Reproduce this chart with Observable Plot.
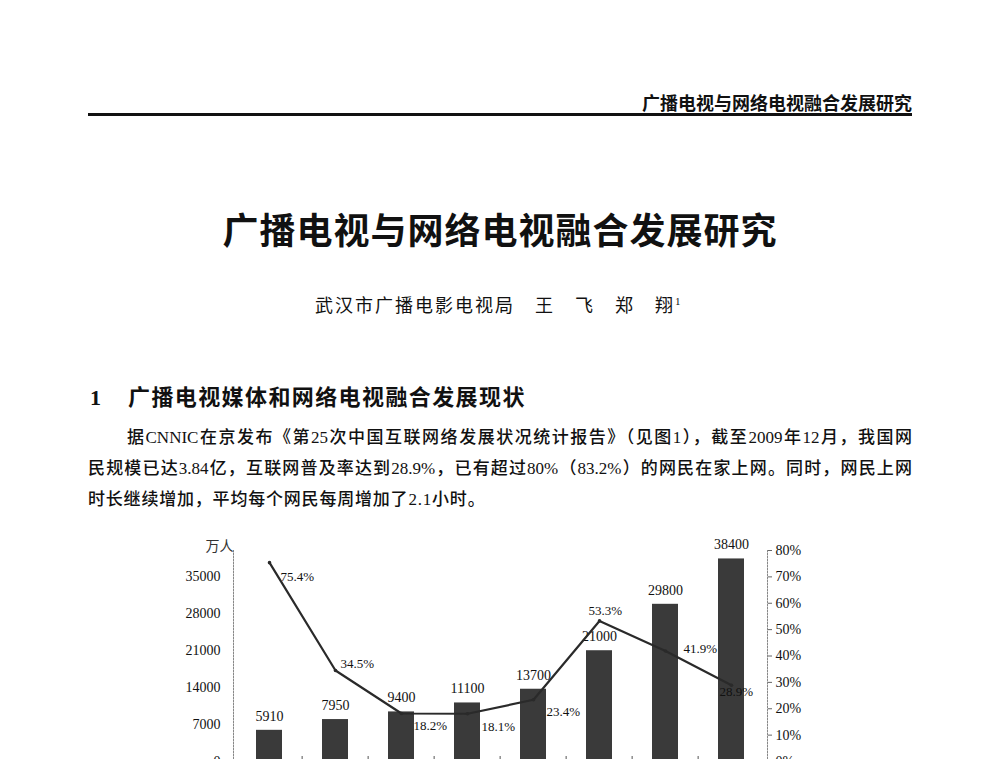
<!DOCTYPE html>
<html>
<head>
<meta charset="utf-8">
<script src="https://cdn.jsdelivr.net/npm/d3@7"></script>
<script src="https://cdn.jsdelivr.net/npm/@observablehq/plot@0.6"></script>
<style>
  html, body { margin: 0; padding: 0; background: #fff; }
  body { width: 1000px; height: 759px; overflow: hidden; position: relative; color: #111;
         font-family: "Liberation Serif", "Noto Sans CJK SC", serif; }
  .abs { position: absolute; white-space: nowrap; }
  #header { right: 88px; top: 91px; font-size: 18px; line-height: 22px; font-weight: bold; font-family: "Noto Sans CJK SC", sans-serif; }
  #rule { left: 88px; width: 824px; top: 113px; height: 3px; background: #111; }
  #title { left: 0; width: 1000px; text-align: center; top: 205px; font-size: 36px; line-height: 46px; font-weight: bold; letter-spacing: 1px; font-family: "Noto Sans CJK SC", sans-serif; }
  #author { left: 315px; top: 289px; font-size: 18px; line-height: 24px; letter-spacing: 2px; font-family: "Noto Sans CJK SC", sans-serif; }
  #author sup { font-family: "Liberation Serif", serif; font-size: 11px; letter-spacing: 0; }
  #heading { left: 90px; top: 381px; font-size: 22px; line-height: 28px; font-weight: bold; }
  #heading .num { font-family: "Liberation Serif", serif; display: inline-block; width: 38px; }
  #heading .txt { font-family: "Noto Sans CJK SC", sans-serif; letter-spacing: 1.4px; }
  .para { left: 88px; width: 824px; font-size: 17px; line-height: 26px; font-weight: 500; }
  .just { text-align: justify; text-align-last: justify; }
  #l1 { top: 425px; left: 127px; width: 785px; }
  #l2 { top: 456px; }
  #l3 { top: 487px; letter-spacing: 0.8px; }
  #chart { position: absolute; left: 0; top: 530px; }
</style>
</head>
<body>
<div id="header" class="abs">广播电视与网络电视融合发展研究</div>
<div id="rule" class="abs"></div>
<div id="title" class="abs">广播电视与网络电视融合发展研究</div>
<div id="author" class="abs">武汉市广播电影电视局　王　飞　郑　翔<sup>1</sup></div>
<div id="heading" class="abs"><span class="num">1</span><span class="txt">广播电视媒体和网络电视融合发展现状</span></div>
<div id="l1" class="abs para just">据CNNIC在京发布《第25次中国互联网络发展状况统计报告》（见图1），截至2009年12月，我国网</div>
<div id="l2" class="abs para just">民规模已达3.84亿，互联网普及率达到28.9%，已有超过80%（83.2%）的网民在家上网。同时，网民上网</div>
<div id="l3" class="abs para">时长继续增加，平均每个网民每周增加了2.1小时。</div>
<div id="chart"></div>
<script>
// ---- data ----
const years = ["2002", "2003", "2004", "2005", "2006", "2007", "2008", "2009"];
const netizens = [5910, 7950, 9400, 11100, 13700, 21000, 29800, 38400];   // 万人
const growthRate = [75.4, 34.5, 18.2, 18.1, 23.4, 53.3, 41.9, 28.9];      // %
const leftTicks = [0, 7000, 14000, 21000, 28000, 35000];
const rightTicks = [0, 10, 20, 30, 40, 50, 60, 70, 80];
const unitLabel = ["万人"];

// ---- styling (label nudges, not data) ----
const rateLabelNudge = [[11, 14], [5, -7], [12, 12], [14, 13], [13, 12], [-11, -10], [18, -2], [-12, 7]];

const leftMax = 40000, rightMax = 80, k = leftMax / rightMax;
const rows = years.map((year, i) => ({year, users: netizens[i], rate: growthRate[i], rateY: growthRate[i] * k}));

const W = 1000, H = 260, mL = 233, mR = 233, mT = 20, mB = 29;
const padIn = 0.6, padOut = 0.3;
const step = (W - mL - mR) / (years.length - padIn + 2 * padOut);
const serif = "Liberation Serif, serif";

const chart = Plot.plot({
  width: W, height: H,
  marginLeft: mL, marginRight: mR, marginTop: mT, marginBottom: mB,
  style: {fontFamily: serif, fontSize: "14px", color: "#111", background: "transparent", overflow: "visible"},
  x: {type: "band", domain: years, paddingInner: padIn, paddingOuter: padOut, axis: null},
  y: {domain: [0, leftMax], label: null},
  marks: [
    Plot.frame({anchor: "left", stroke: "#888", strokeDasharray: "1.5,1.5"}),
    Plot.frame({anchor: "right", stroke: "#888", strokeDasharray: "1.5,1.5"}),
    Plot.barY(rows, {x: "year", y: "users", fill: "#3a3a3a"}),
    Plot.ruleY([0], {stroke: "#555"}),
    Plot.ruleX(years.slice(1), {x: d => d, y1: 0, y2: 0, insetTop: -5, dx: -step / 2, stroke: "#555"}),
    Plot.text(rows, {x: "year", y: "users", text: d => String(d.users), dy: -14, fontSize: 14, fill: "#111"}),
    Plot.line(rows, {x: "year", y: "rateY", stroke: "#2a2a2a", strokeWidth: 2.2}),
    Plot.dot(rows, {x: "year", y: "rateY", r: 1.8, fill: "#2a2a2a"}),
    ...rows.map((d, i) => Plot.text([d], {
      x: "year", y: "rateY", text: r => r.rate + "%", textAnchor: "start",
      dx: rateLabelNudge[i][0], dy: rateLabelNudge[i][1], fontSize: 13, fill: "#111"
    })),
    Plot.axisY(leftTicks, {anchor: "left", tickSize: 0, tickPadding: 13, fontSize: 14, label: null,
      tickFormat: v => String(v)}),
    Plot.axisY(rightTicks.map(t => t * k), {anchor: "right", tickSize: 4, tickPadding: 4, fontSize: 14,
      tickFormat: v => (v / k) + "%", stroke: "#666", label: null}),
    Plot.text(unitLabel, {frameAnchor: "top-left", text: d => d, dx: -28, dy: -9, fontSize: 14,
      fontFamily: "Noto Sans CJK SC, sans-serif", fill: "#333"})
  ]
});
document.getElementById("chart").appendChild(chart);
</script>
</body>
</html>
